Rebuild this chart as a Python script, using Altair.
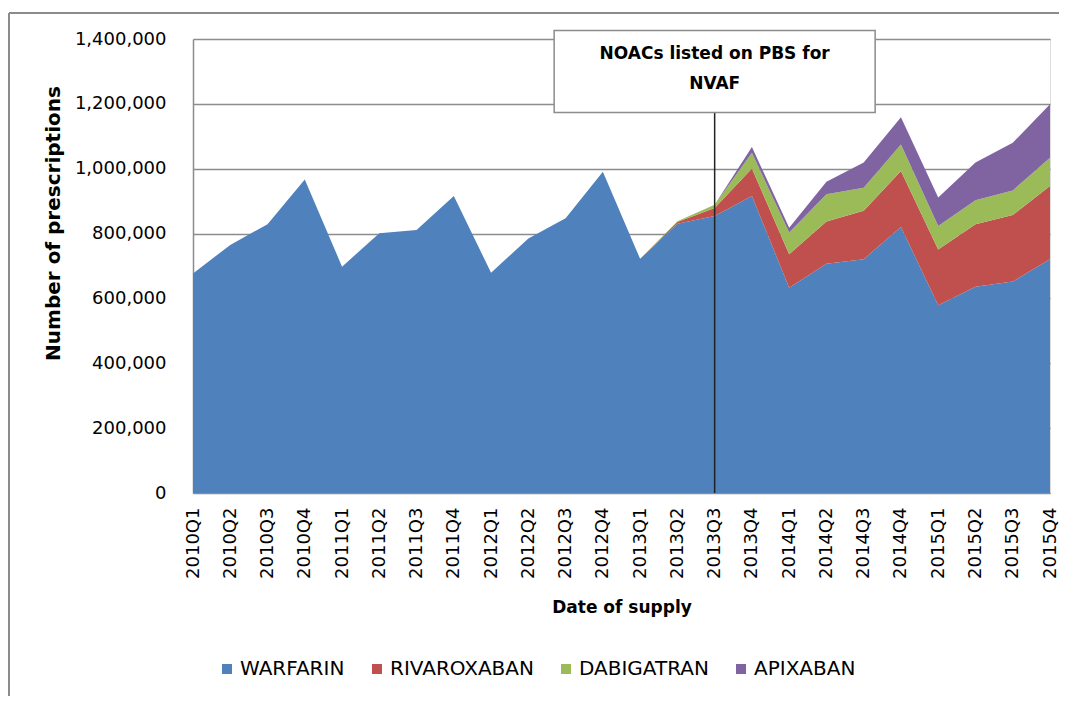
import altair as alt
import pandas as pd

quarters = [f"{y}Q{q}" for y in range(2010, 2016) for q in range(1, 5)]

warfarin = [677000, 765000, 829000, 967000, 698000, 801000, 811000, 916000,
            679000, 785000, 847000, 991000, 722000, 830000, 854000, 916000,
            633000, 707000, 721000, 820000, 579000, 636000, 652000, 721000]
rivaroxaban = [0] * 13 + [6000, 25000, 85000, 103000, 130000, 149000, 173000,
                          172000, 193000, 205000, 226000]
dabigatran = [0] * 13 + [2000, 10000, 48000, 67000, 84000, 71000, 82000,
                         72000, 74000, 76000, 87000]
apixaban = [0] * 14 + [0, 18000, 15000, 39000, 78000, 84000, 88000, 116000,
                       147000, 165000]

series_names = ["WARFARIN", "RIVAROXABAN", "DABIGATRAN", "APIXABAN"]
series_values = [warfarin, rivaroxaban, dabigatran, apixaban]
series_colors = ["#4F81BD", "#C0504D", "#9BBB59", "#8064A2"]

y_ticks = [0, 200000, 400000, 600000, 800000, 1000000, 1200000, 1400000]

annotation_quarter = "2013Q3"
annotation_lines = ["NOACs listed on PBS for", "NVAF"]
annotation_box_center = 1300000
annotation_box_bottom = 1172700

rows = []
for i, (name, vals) in enumerate(zip(series_names, series_values)):
    for q, v in zip(quarters, vals):
        rows.append({"quarter": q, "drug": name, "value": v, "order": i})
df = pd.DataFrame(rows)

FONT = "DejaVu Sans"
W, H = 857, 454

x_enc = alt.X("quarter:O", scale=alt.Scale(type="point", domain=quarters, padding=0),
              axis=alt.Axis(title="Date of supply", labelAngle=270, labelFont=FONT,
                            labelFontSize=18, labelColor="#000", labelPadding=14,
                            ticks=False, domain=True, domainColor="#8c8c8c",
                            titleFont=FONT, titleFontSize=17, titleFontWeight="bold",
                            titleColor="#000", titleY=114, titleBaseline="middle",
                            grid=False))
y_scale = alt.Scale(domain=[0, 1400000], nice=False)

areas = alt.Chart(df).mark_area(interpolate="linear").encode(
    x=x_enc,
    y=alt.Y("value:Q", stack="zero", scale=y_scale,
            axis=alt.Axis(title="Number of prescriptions", values=y_ticks, format=",d",
                          labelFont=FONT, labelFontSize=18, labelColor="#000",
                          labelPadding=27, ticks=False, domain=True,
                          domainColor="#8c8c8c", domainWidth=1.5,
                          grid=True, gridColor="#8c8c8c", gridWidth=1.5,
                          titleFont=FONT, titleFontSize=20, titleFontWeight="bold",
                          titleColor="#000", titleX=-140, titleY=184,
                          titleAngle=270, titleAlign="center", titleBaseline="middle")),
    color=alt.Color("drug:N", scale=alt.Scale(domain=series_names, range=series_colors),
                    legend=alt.Legend(title=None, orient="none", legendX=24, legendY=620,
                                      direction="horizontal", columns=4,
                                      symbolType="square", symbolSize=100,
                                      symbolStrokeWidth=0, labelFont=FONT,
                                      labelFontSize=20, labelColor="#000",
                                      labelOffset=3, columnPadding=22, padding=0)),
    order=alt.Order("order:Q", sort="ascending"),
)

ann = pd.DataFrame({"quarter": [annotation_quarter], "center": [annotation_box_center],
                    "bottom": [annotation_box_bottom], "zero": [0]})

vline = alt.Chart(ann).mark_rule(color="#222", strokeWidth=1.5).encode(
    x=alt.X("quarter:O"), y=alt.Y("zero:Q", scale=y_scale), y2="bottom:Q")

box = alt.Chart(ann).mark_rect(width=321, height=82, fill="white",
                               stroke="#8c8c8c", strokeWidth=1.5).encode(
    x=alt.X("quarter:O"), y=alt.Y("center:Q", scale=y_scale))

text1 = alt.Chart(ann).mark_text(text=annotation_lines[0], font=FONT, fontSize=17,
                                 fontWeight="bold", color="#000", dy=-17.5,
                                 baseline="middle").encode(
    x=alt.X("quarter:O"), y=alt.Y("center:Q", scale=y_scale))
text2 = alt.Chart(ann).mark_text(text=annotation_lines[1], font=FONT, fontSize=17,
                                 fontWeight="bold", color="#000", dy=13,
                                 baseline="middle").encode(
    x=alt.X("quarter:O"), y=alt.Y("center:Q", scale=y_scale))

dummy = pd.DataFrame({"d": [0]})
frame_left = alt.Chart(dummy).mark_rule(color="#8c8c8c", strokeWidth=2).encode(
    x=alt.value(-184), y=alt.value(-26), y2=alt.value(700))
frame_top = alt.Chart(dummy).mark_rule(color="#8c8c8c", strokeWidth=2).encode(
    x=alt.value(-184), x2=alt.value(875), y=alt.value(-26))

chart = alt.layer(areas, vline, box, text1, text2, frame_left, frame_top).properties(
    width=W, height=H,
    autosize=alt.AutoSizeParams(type="none"),
    padding={"left": 185, "top": 31, "right": 9, "bottom": 203},
).configure_view(stroke=None).configure(background="white")

chart.save("out.html", embed_options={"renderer": "svg", "actions": False})
